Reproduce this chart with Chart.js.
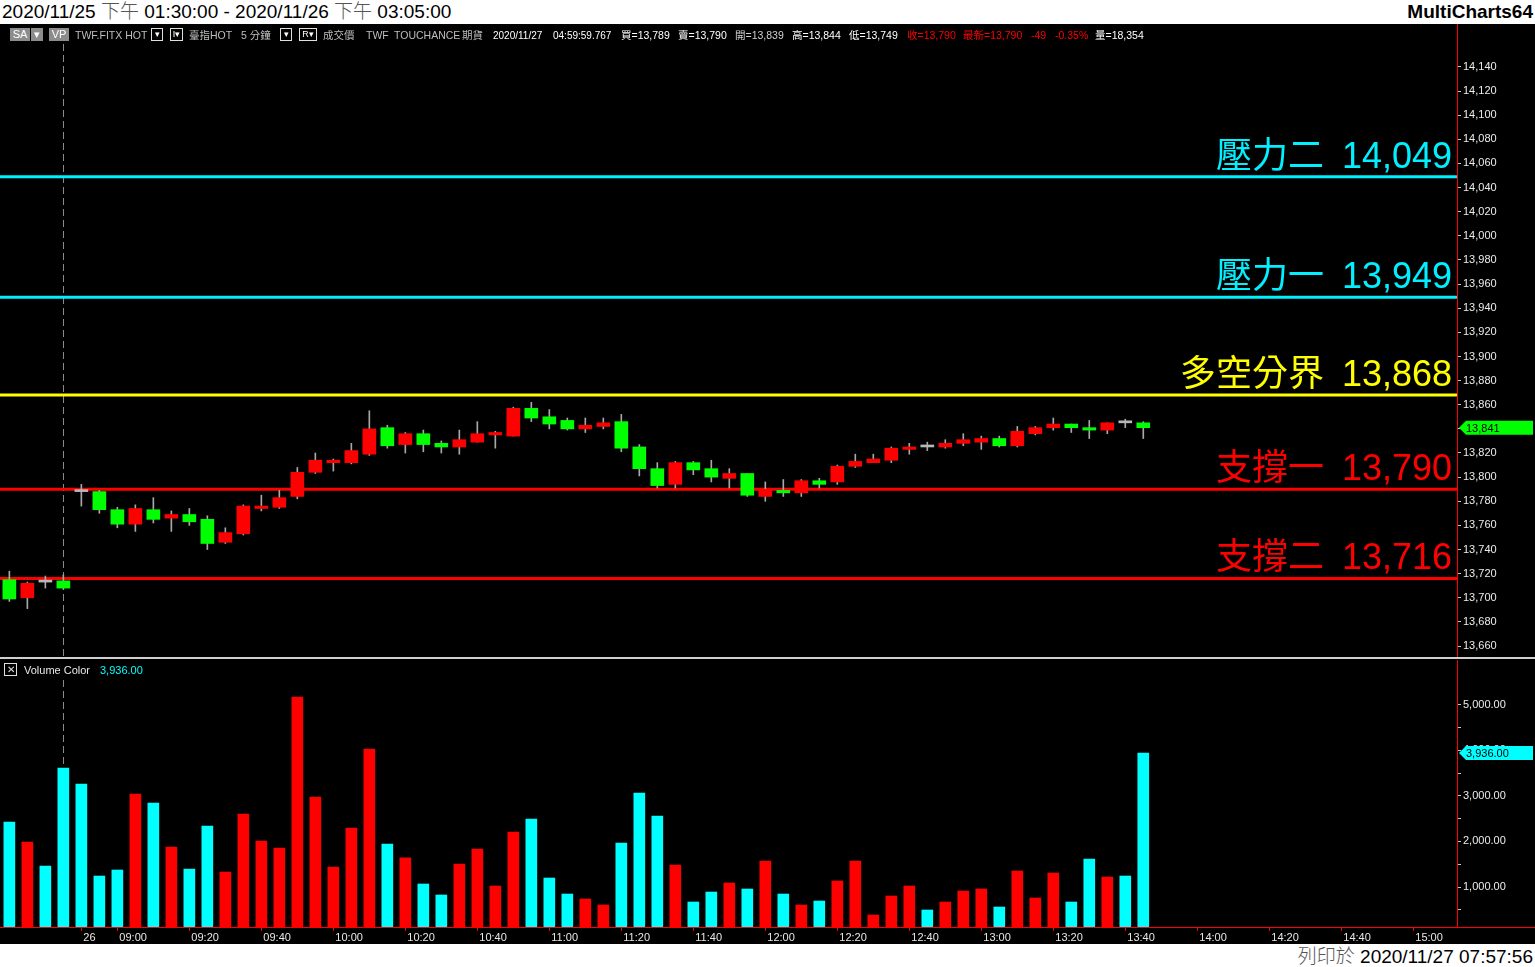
<!DOCTYPE html>
<html>
<head>
<meta charset="utf-8">
<script src="https://cdn.jsdelivr.net/npm/chart.js@4.4.1/dist/chart.umd.min.js"></script>
<style>
    body { margin: 0; background: #000; width: 1535px; height: 967px; overflow: hidden; position: relative;
           font-family: "Liberation Sans", Arial, "Noto Sans CJK TC", sans-serif; }
    #title { position: absolute; left: 0; top: 0; width: 1535px; height: 24px; background: #fff; color: #000;
             font-size: 19px; line-height: 24px; }
    #title .range { position: absolute; left: 2px; top: 0; }
    #title .brand { position: absolute; right: 2px; top: 0; font-weight: bold; font-size: 19px; }
    .cj { color: #555; font-weight: 300; }
    #priceCanvas { position: absolute; left: 0; top: 24px; }
    #sep { position: absolute; left: 0; top: 657px; width: 1535px; height: 2px; background: #cfcfcf; }
    #volCanvas { position: absolute; left: 0; top: 660px; }
    #footer { position: absolute; left: 0; top: 944px; width: 1535px; height: 23px; background: #fff; color: #000;
              font-size: 19px; line-height: 25px; text-align: right; }
    #footer span.txt { padding-right: 2px; }
    .info { position: absolute; top: 29px; font-size: 10.5px; line-height: 13px; white-space: nowrap; z-index: 5; }
    .box { position: absolute; top: 28px; height: 13px; font-size: 11px; line-height: 13px; text-align: center; z-index: 5; box-sizing: border-box; }
    .box.gray { background: #8c8c8c; color: #fff; }
    .box.outline { border: 1px solid #e0e0e0; color: #fff; line-height: 11px; font-size: 9px; }
    #volLegend { position: absolute; left: 4px; top: 663px; z-index: 5; font-size: 11px; line-height: 13px; }
    #volLegend .x { position: absolute; left: 0; top: 0; width: 13px; height: 13px; border: 1px solid #e0e0e0; box-sizing: border-box;
                    color: #e0e0e0; font-size: 10px; line-height: 11px; text-align: center; }
    #volLegend .name { position: absolute; left: 20px; top: 1px; color: #e8e8e8; white-space: nowrap; }
    #volLegend .val { position: absolute; left: 96px; top: 1px; color: #00ffff; white-space: nowrap; }
</style>
</head>
<body>
<div id="title">
    <span class="range">2020/11/25 <span class="cj">下午</span> 01:30:00 - 2020/11/26 <span class="cj">下午</span> 03:05:00</span>
    <span class="brand">MultiCharts64</span>
</div>
<div id="infoBar"></div>
<canvas id="priceCanvas" width="1535" height="633"></canvas>
<div id="sep"></div>
<div id="volLegend"><span class="x">✕</span><span class="name">Volume Color</span><span class="val">3,936.00</span></div>
<canvas id="volCanvas" width="1535" height="284"></canvas>
<div id="footer"><span class="txt"><span class="cj">列印於</span> 2020/11/27 07:57:56</span></div>

<script>
// 5-minute bars: 11/25 afternoon tail, then 11/26 day session
const barTimes = [
    '13:30', '13:35', '13:40', '13:45',
    '08:50', '08:55', '09:00', '09:05', '09:10', '09:15', '09:20', '09:25', '09:30', '09:35', '09:40', '09:45',
    '09:50', '09:55', '10:00', '10:05', '10:10', '10:15', '10:20', '10:25', '10:30', '10:35', '10:40', '10:45',
    '10:50', '10:55', '11:00', '11:05', '11:10', '11:15', '11:20', '11:25', '11:30', '11:35', '11:40', '11:45',
    '11:50', '11:55', '12:00', '12:05', '12:10', '12:15', '12:20', '12:25', '12:30', '12:35', '12:40', '12:45',
    '12:50', '12:55', '13:00', '13:05', '13:10', '13:15', '13:20', '13:25', '13:30', '13:35', '13:40', '13:45'
];

const opens = [
    13715, 13700, 13713, 13714, 13788, 13788, 13773, 13761, 13773, 13766, 13769, 13765, 13746, 13753, 13774, 13775,
    13784, 13804, 13812, 13812, 13819, 13841, 13827, 13836, 13828, 13825, 13829, 13835, 13834, 13857, 13850, 13847,
    13840, 13842, 13846, 13825, 13807, 13794, 13812, 13807, 13799, 13803, 13784, 13789, 13787, 13797, 13796, 13809,
    13812, 13814, 13823, 13825, 13825, 13828, 13829, 13832, 13826, 13836, 13841, 13844, 13841, 13839, 13845, 13845
];
const highs = [
    13722, 13713, 13718, 13719, 13794, 13789, 13775, 13777, 13783, 13772, 13774, 13768, 13758, 13777, 13785, 13789,
    13808, 13820, 13815, 13828, 13855, 13843, 13837, 13839, 13830, 13839, 13846, 13838, 13858, 13862, 13856, 13849,
    13849, 13849, 13852, 13827, 13812, 13813, 13813, 13814, 13807, 13803, 13796, 13798, 13798, 13799, 13810, 13819,
    13819, 13825, 13828, 13829, 13831, 13836, 13834, 13834, 13842, 13842, 13849, 13844, 13847, 13845, 13848, 13846
];
const lows = [
    13697, 13691, 13708, 13707, 13776, 13770, 13758, 13755, 13762, 13755, 13760, 13740, 13745, 13752, 13772, 13774,
    13782, 13803, 13805, 13811, 13818, 13824, 13820, 13821, 13820, 13819, 13829, 13824, 13834, 13846, 13840, 13839,
    13837, 13840, 13821, 13801, 13791, 13791, 13802, 13796, 13791, 13784, 13780, 13784, 13784, 13791, 13794, 13808,
    13812, 13812, 13819, 13822, 13824, 13826, 13823, 13825, 13825, 13835, 13839, 13837, 13832, 13836, 13841, 13832
];
const closes = [
    13699, 13712, 13713, 13708, 13788, 13773, 13761, 13774, 13765, 13769, 13763, 13745, 13754, 13776, 13776, 13783,
    13804, 13814, 13814, 13822, 13840, 13826, 13836, 13827, 13825, 13831, 13836, 13837, 13857, 13849, 13844, 13840,
    13843, 13845, 13824, 13807, 13793, 13812, 13806, 13800, 13803, 13785, 13790, 13787, 13797, 13794, 13809, 13813,
    13815, 13824, 13825, 13825, 13828, 13831, 13832, 13826, 13838, 13841, 13844, 13841, 13839, 13845, 13845, 13841
];
const volumes = [
    2425, 1987, 1461, 3610, 3259, 1241, 1373, 3039, 2842, 1877, 1395, 2338, 1329, 2601, 2009, 1855,
    5167, 2974, 1439, 2294, 4026, 1943, 1638, 1066, 825, 1504, 1833, 1022, 2206, 2491, 1197, 846,
    737, 605, 1965, 3061, 2557, 1482, 671, 890, 1088, 956, 1570, 846, 605, 693, 1132, 1570,
    386, 803, 1022, 496, 671, 912, 956, 561, 1351, 759, 1307, 671, 1614, 1219, 1241, 3936
];

// support / resistance levels
const levelNames = ['壓力二', '壓力一', '多空分界', '支撐一', '支撐二'];
const levelValues = [14049, 13949, 13868, 13790, 13716];
const levelColors = ['#00f0ff', '#00f0ff', '#ffff00', '#ff0000', '#ff0000'];

// axis ticks
const priceTickLabels = [13660, 13680, 13700, 13720, 13740, 13760, 13780, 13800, 13820, 13840, 13860, 13880, 13900,
    13920, 13940, 13960, 13980, 14000, 14020, 14040, 14060, 14080, 14100, 14120, 14140];
const volTickLabels = [1000, 2000, 3000, 4000, 5000];
const xTickIdx = [4, 6, 10, 14, 18, 22, 26, 30, 34, 38, 42, 46, 50, 54, 58, 62, 66, 70, 74, 78];
const xTickText = ['26', '09:00', '09:20', '09:40', '10:00', '10:20', '10:40', '11:00', '11:20', '11:40', '12:00',
    '12:20', '12:40', '13:00', '13:20', '13:40', '14:00', '14:20', '14:40', '15:00'];
const sessionBreakIdx = 3;

// view ranges (match screen scale)
const X_MIN = -0.52, X_MAX = 80.43;
const P_MIN = 13650.9, P_MAX = 14175.6;
const V_MIN = 123, V_MAX = 5978;

const UP = '#ff0000', DOWN = '#00ff00', FLAT = '#b8b8b8', WICK = '#a8a8a8';
const VOL_UP = '#ff0000', VOL_DOWN = '#00ffff';
const AXIS_RED = '#ff0000', TICK_GRAY = '#c8c8c8';

Chart.defaults.font.family = '"Liberation Sans", Arial, sans-serif';
Chart.defaults.font.size = 11;
Chart.defaults.color = '#e8e8e8';

// info line across the top of the price pane
const infoItems = [
    { x: 10, w: 20, t: 'SA', box: 'gray' }, { x: 31, w: 12, t: '▾', box: 'gray' },
    { x: 49, w: 20, t: 'VP', box: 'gray' },
    { x: 75, t: 'TWF.FITX HOT', c: '#bdbdbd' },
    { x: 151, w: 12, t: '▾', box: 'outline' }, { x: 170, w: 13, t: 'I▾', box: 'outline' },
    { x: 189, t: '臺指HOT', c: '#bdbdbd' }, { x: 241, t: '5 分鐘', c: '#bdbdbd' },
    { x: 280, w: 12, t: '▾', box: 'outline' }, { x: 299, w: 18, t: 'R▾', box: 'outline' },
    { x: 323, t: '成交價', c: '#bdbdbd' }, { x: 366, t: 'TWF', c: '#bdbdbd' },
    { x: 394, t: 'TOUCHANCE', c: '#bdbdbd' }, { x: 462, t: '期貨', c: '#bdbdbd' },
    { x: 493, t: '2020/11/27', c: '#fff', s: 10 }, { x: 553, t: '04:59:59.767', c: '#fff', s: 10 },
    { x: 621, t: '買=13,789', c: '#fff' }, { x: 678, t: '賣=13,790', c: '#fff' },
    { x: 735, t: '開=13,839', c: '#cfcfcf' }, { x: 792, t: '高=13,844', c: '#fff' },
    { x: 849, t: '低=13,749', c: '#fff' }, { x: 907, t: '收=13,790', c: '#ff0000' },
    { x: 963, t: '最新=13,790', c: '#ff0000' }, { x: 1031, t: '-49', c: '#ff0000' },
    { x: 1055, t: '-0.35%', c: '#ff0000' }, { x: 1095, t: '量=18,354', c: '#fff' }
];
const infoBar = document.getElementById('infoBar');
infoItems.forEach(it => {
    const el = document.createElement('span');
    el.textContent = it.t;
    el.style.left = it.x + 'px';
    if (it.box) {
        el.className = 'box ' + it.box;
        el.style.width = it.w + 'px';
    } else {
        el.className = 'info';
        el.style.color = it.c;
        if (it.s) el.style.fontSize = it.s + 'px';
    }
    infoBar.appendChild(el);
});

function noPad(scale) {
    scale.paddingTop = 0; scale.paddingBottom = 0; scale.paddingLeft = 0; scale.paddingRight = 0;
}

function drawTag(ctx, left, right, y, color, text) {
    ctx.save();
    ctx.fillStyle = color;
    ctx.beginPath();
    ctx.moveTo(left, y);
    ctx.lineTo(left + 7, y - 7);
    ctx.lineTo(right, y - 7);
    ctx.lineTo(right, y + 7);
    ctx.lineTo(left + 7, y + 7);
    ctx.closePath();
    ctx.fill();
    ctx.fillStyle = '#000';
    ctx.font = '11px "Liberation Sans", Arial, sans-serif';
    ctx.textAlign = 'left';
    ctx.textBaseline = 'middle';
    ctx.fillText(text, left + 7, y + 1);
    ctx.restore();
}

const sessionLine = {
    id: 'sessionLine',
    beforeDatasetsDraw(chart) {
        const ctx = chart.ctx, area = chart.chartArea;
        const x = Math.round(chart.scales.x.getPixelForValue(sessionBreakIdx)) + 0.5;
        ctx.save();
        ctx.strokeStyle = '#8a8a8a';
        ctx.lineWidth = 1;
        ctx.setLineDash([7, 4]);
        ctx.beginPath();
        ctx.moveTo(x, area.top + 20);
        ctx.lineTo(x, area.bottom);
        ctx.stroke();
        ctx.restore();
    }
};

const levelLabels = {
    id: 'levelLabels',
    afterDatasetsDraw(chart) {
        const ctx = chart.ctx, area = chart.chartArea, y = chart.scales.y;
        ctx.save();
        ctx.font = '36px "Liberation Sans", Arial, "Noto Sans CJK TC"';
        ctx.textAlign = 'right';
        ctx.textBaseline = 'alphabetic';
        levelValues.forEach((v, k) => {
            ctx.fillStyle = levelColors[k];
            ctx.fillText(levelNames[k] + '\u2002' + v.toLocaleString('en-US'), area.right - 5, y.getPixelForValue(v) - 9);
        });
        ctx.restore();
    },
    afterDraw(chart) {
        const last = closes[closes.length - 1];
        const yp = chart.scales.y.getPixelForValue(last);
        drawTag(chart.ctx, chart.chartArea.right + 2, chart.width - 2, yp, '#00ff00', last.toLocaleString('en-US'));
    }
};

const volExtras = {
    id: 'volExtras',
    afterDraw(chart) {
        const ctx = chart.ctx, area = chart.chartArea;
        ctx.save();
        ctx.strokeStyle = AXIS_RED;
        ctx.lineWidth = 1;
        ctx.beginPath();
        ctx.moveTo(area.right, area.bottom + 0.5);
        ctx.lineTo(chart.width, area.bottom + 0.5);
        ctx.stroke();
        ctx.restore();
        const last = volumes[volumes.length - 1];
        const yp = chart.scales.y.getPixelForValue(last);
        drawTag(ctx, area.right + 2, chart.width - 2, yp, '#00ffff',
            last.toLocaleString('en-US', { minimumFractionDigits: 2 }));
    }
};

// Price pane
const candleColors = opens.map((o, i) => closes[i] > o ? UP : (closes[i] < o ? DOWN : FLAT));
const datasets = [
    {
        label: 'body',
        data: opens.map((o, i) => ({ x: i, y: [o, closes[i]] })),
        backgroundColor: candleColors,
        barThickness: 13,
        minBarLength: 2,
        grouped: false,
        order: 0
    },
    {
        label: 'wick',
        data: lows.map((l, i) => ({ x: i, y: [l, highs[i]] })),
        backgroundColor: WICK,
        barThickness: 1,
        grouped: false,
        order: 1
    }
];
levelValues.forEach((v, k) => {
    datasets.push({
        type: 'line',
        label: levelNames[k],
        data: [{ x: X_MIN, y: v }, { x: X_MAX, y: v }],
        borderColor: levelColors[k],
        borderWidth: 3,
        pointRadius: 0,
        order: 2
    });
});

new Chart(document.getElementById('priceCanvas'), {
    type: 'bar',
    data: { datasets },
    options: {
        responsive: false,
        animation: false,
        layout: { padding: 0, autoPadding: false },
        plugins: { legend: { display: false }, tooltip: { enabled: false } },
        scales: {
            x: {
                type: 'linear', display: false, min: X_MIN, max: X_MAX, offset: false,
                grid: { offset: false },
                afterFit: noPad
            },
            y: {
                position: 'right', min: P_MIN, max: P_MAX,
                afterBuildTicks: scale => {
                    const vals = [];
                    priceTickLabels.forEach(v => { vals.push(v); vals.push(v + 10); });
                    scale.ticks = vals.map(v => ({ value: v }));
                },
                afterFit: scale => { scale.width = 78; noPad(scale); },
                ticks: {
                    padding: 2, color: '#ececec',
                    callback: v => priceTickLabels.includes(v) ? v.toLocaleString('en-US') : ''
                },
                grid: { drawOnChartArea: false, tickLength: 4, color: TICK_GRAY },
                border: { color: AXIS_RED, width: 1 }
            }
        }
    },
    plugins: [sessionLine, levelLabels]
});

// Volume pane
const volColors = opens.map((o, i) => closes[i] > o ? VOL_UP : VOL_DOWN);
new Chart(document.getElementById('volCanvas'), {
    type: 'bar',
    data: {
        datasets: [{
            label: 'Volume Color',
            data: volumes.map((v, i) => ({ x: i, y: v })),
            backgroundColor: volColors,
            barThickness: 11
        }]
    },
    options: {
        responsive: false,
        animation: false,
        layout: { padding: 0, autoPadding: false },
        plugins: { legend: { display: false }, tooltip: { enabled: false } },
        scales: {
            x: {
                type: 'linear', min: X_MIN, max: X_MAX, offset: false,
                afterBuildTicks: scale => { scale.ticks = xTickIdx.map(v => ({ value: v })); },
                afterFit: scale => { scale.height = 17; noPad(scale); },
                ticks: {
                    autoSkip: false, maxRotation: 0, align: 'start', padding: 0, labelOffset: 2, color: '#e8e8e8',
                    callback: (v, i) => xTickText[i]
                },
                grid: { drawOnChartArea: false, tickLength: 4, color: AXIS_RED, offset: false },
                border: { color: AXIS_RED, width: 1 }
            },
            y: {
                position: 'right', min: V_MIN, max: V_MAX,
                afterBuildTicks: scale => {
                    const vals = [];
                    volTickLabels.forEach(v => { vals.push(v - 500); vals.push(v); });
                    scale.ticks = vals.map(v => ({ value: v }));
                },
                afterFit: scale => { scale.width = 78; noPad(scale); },
                ticks: {
                    padding: 2, color: '#ececec',
                    callback: v => volTickLabels.includes(v) ? v.toLocaleString('en-US', { minimumFractionDigits: 2 }) : ''
                },
                grid: { drawOnChartArea: false, tickLength: 4, color: TICK_GRAY },
                border: { color: AXIS_RED, width: 1 }
            }
        }
    },
    plugins: [sessionLine, volExtras]
});
</script>
</body>
</html>
